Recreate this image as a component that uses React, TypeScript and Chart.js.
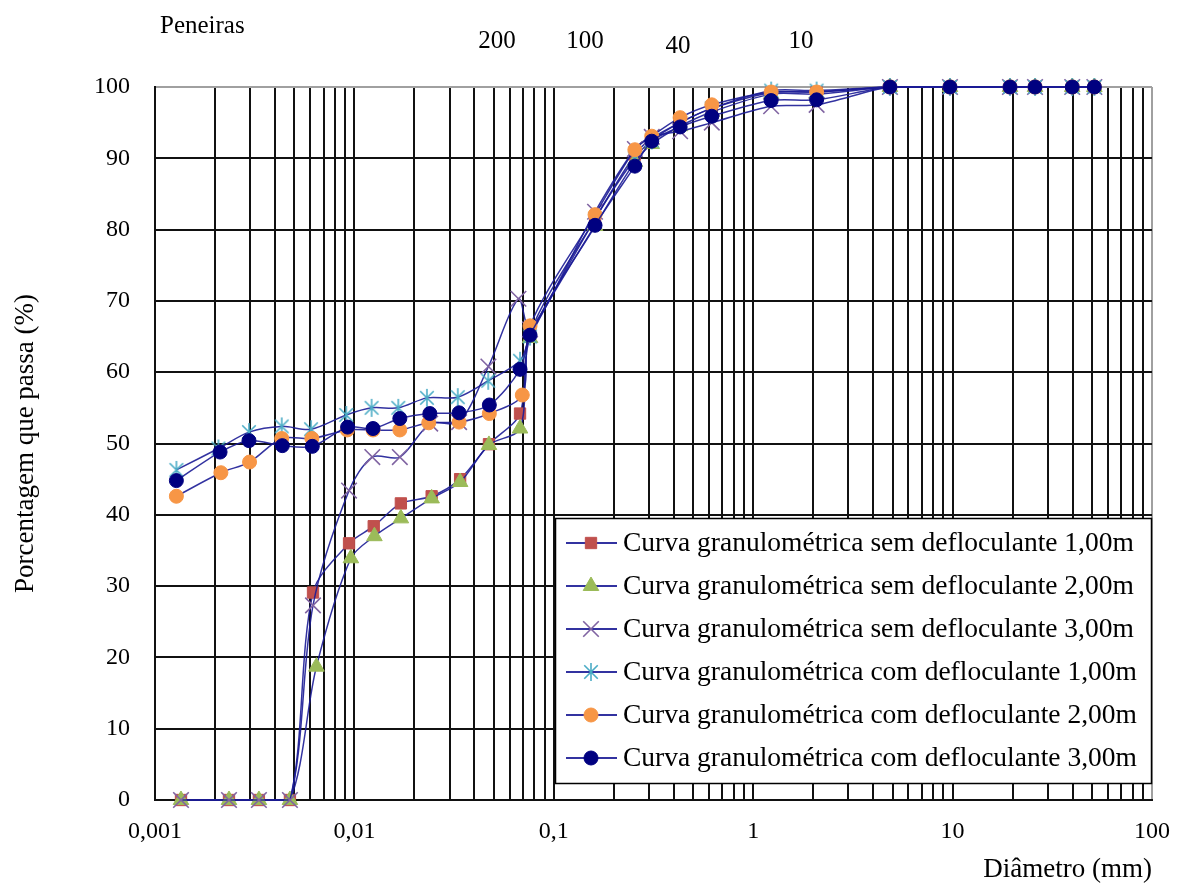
import React, { useEffect, useRef } from 'react';
import { Chart, registerables } from 'chart.js';
import { drawPoint } from 'chart.js/helpers';

Chart.register(...registerables);

const seriesNames = [
  'Curva granulométrica sem defloculante 1,00m',
  'Curva granulométrica sem defloculante 2,00m',
  'Curva granulométrica sem defloculante 3,00m',
  'Curva granulométrica com defloculante 1,00m',
  'Curva granulométrica com defloculante 2,00m',
  'Curva granulométrica com defloculante 3,00m',
];

const xTickLabels = ['0,001', '0,01', '0,1', '1', '10', '100'];
const yTicks = [0, 10, 20, 30, 40, 50, 60, 70, 80, 90, 100];
const sieveTitle = 'Peneiras';
const sieveNumbers = ['200', '100', '40', '10'];

// Sieve diameters (mm)
const sieveX = [0.076, 0.161, 0.255, 0.31, 0.43, 0.62, 1.23, 2.08, 4.85, 9.7, 19.4, 25.9, 39.8, 51.4];

// Sedimentation diameters (mm)
const hydroXSem1 = [0.00135, 0.00235, 0.00332, 0.00475, 0.0062, 0.0094, 0.0125, 0.0171, 0.0244, 0.0339, 0.0473, 0.0677];
const hydroXSem2 = [0.00135, 0.00235, 0.00332, 0.00475, 0.00645, 0.0096, 0.0126, 0.0171, 0.0244, 0.0339, 0.0473, 0.0677];
const hydroXSem3 = [0.00135, 0.00235, 0.00332, 0.00475, 0.0062, 0.0094, 0.0123, 0.0169, 0.024, 0.0335, 0.047, 0.0665];
const hydroXCom1 = [0.00128, 0.00208, 0.00296, 0.00432, 0.00606, 0.0091, 0.0122, 0.0166, 0.0231, 0.033, 0.0469, 0.0677];
const hydroXCom2 = [0.00128, 0.00214, 0.00298, 0.00432, 0.00612, 0.0092, 0.0124, 0.0169, 0.0236, 0.0335, 0.0475, 0.0695];
const hydroXCom3 = [0.00128, 0.00212, 0.00296, 0.00435, 0.00615, 0.00925, 0.0124, 0.0169, 0.0239, 0.0335, 0.0475, 0.0677];

// Percent passing – sedimentation
const hydroYSem1 = [0, 0, 0, 0, 29.1, 36.0, 38.4, 41.6, 42.6, 45.0, 49.9, 54.2];
const hydroYSem2 = [0, 0, 0, 0, 18.7, 33.9, 37.0, 39.5, 42.3, 44.6, 49.8, 52.1];
const hydroYSem3 = [0, 0, 0, 0, 27.3, 43.4, 48.1, 48.1, 52.8, 53.0, 60.8, 70.3];
const hydroYCom1 = [46.3, 49.3, 51.6, 52.4, 52.0, 54.0, 55.0, 55.0, 56.4, 56.5, 58.8, 61.6];
const hydroYCom2 = [42.6, 45.9, 47.4, 50.7, 50.7, 51.9, 51.9, 51.9, 52.9, 53.0, 54.2, 56.8];
const hydroYCom3 = [44.8, 48.8, 50.4, 49.7, 49.6, 52.3, 52.1, 53.5, 54.2, 54.3, 55.4, 60.4];

// Percent passing – sieves
const sieveYSem1 = [65.5, 81.5, 90.5, 92.8, 95.0, 97.0, 99.2, 99.3, 100, 100, 100, 100, 100, 100];
const sieveYSem2 = [64.8, 80.5, 89.5, 92.0, 94.5, 96.5, 99.0, 99.0, 100, 100, 100, 100, 100, 100];
const sieveYSem3 = [66.0, 82.5, 91.3, 93.0, 93.8, 95.0, 97.3, 97.5, 100, 100, 100, 100, 100, 100];
const sieveYCom1 = [65.0, 81.5, 90.0, 92.5, 95.0, 97.0, 99.5, 99.5, 100, 100, 100, 100, 100, 100];
const sieveYCom2 = [66.5, 82.1, 91.2, 93.1, 95.7, 97.5, 99.3, 99.3, 100, 100, 100, 100, 100, 100];
const sieveYCom3 = [65.2, 80.6, 88.9, 92.4, 94.4, 95.9, 98.1, 98.2, 100, 100, 100, 100, 100, 100];

const markerColors = ['#c0504d', '#9bbb59', '#8064a2', '#4bacc6', '#f79646', '#000080'];
const lineColor = 'rgba(28,28,150,0.9)';
const FONT = "'Liberation Serif', 'Times New Roman', serif";

function makeAsterisk(color: string, size: number) {
  const c = document.createElement('canvas');
  c.width = size;
  c.height = size;
  const ctx = c.getContext('2d')!;
  ctx.strokeStyle = color;
  ctx.lineWidth = 1.6;
  const m = size / 2;
  const r = size / 2 - 1;
  ctx.beginPath();
  ctx.moveTo(m, m - r);
  ctx.lineTo(m, m + r);
  const d = r * 0.75;
  ctx.moveTo(m - d, m - d);
  ctx.lineTo(m + d, m + d);
  ctx.moveTo(m + d, m - d);
  ctx.lineTo(m - d, m + d);
  ctx.stroke();
  return c;
}

function combine(hx: number[], hy: number[], sy: number[]) {
  return hx.map((x, i) => ({ x, y: hy[i] })).concat(sieveX.map((x, i) => ({ x, y: sy[i] })));
}

const legendPlugin = {
  id: 'customLegend',
  afterDraw(chart: any) {
    const ctx = chart.ctx;
    const left = 555, top = 518, right = chart.chartArea.right, bottom = 783;
    ctx.save();
    ctx.fillStyle = '#ffffff';
    ctx.fillRect(left, top, right - left, bottom - top);
    ctx.strokeStyle = '#000000';
    ctx.lineWidth = 1.5;
    ctx.strokeRect(left + 0.5, top + 0.5, right - left - 1, bottom - top);
    chart.data.datasets.forEach((ds: any, i: number) => {
      const y = 543 + i * 43;
      ctx.strokeStyle = lineColor;
      ctx.lineWidth = 2;
      ctx.beginPath();
      ctx.moveTo(566, y);
      ctx.lineTo(617, y);
      ctx.stroke();
      ctx.fillStyle = ds.pointBackgroundColor;
      ctx.strokeStyle = ds.pointBorderColor;
      ctx.lineWidth = ds.pointBorderWidth;
      drawPoint(ctx, { pointStyle: ds.pointStyle, radius: ds.pointRadius, rotation: 0, borderWidth: ds.pointBorderWidth }, 591, y);
      ctx.fillStyle = '#000000';
      ctx.font = `27.5px ${FONT}`;
      ctx.textBaseline = 'middle';
      ctx.textAlign = 'left';
      ctx.fillText(ds.label, 623, y + 1);
    });
    ctx.restore();
  },
};

const topLabelsPlugin = {
  id: 'topLabels',
  afterDraw(chart: any) {
    const ctx = chart.ctx;
    ctx.save();
    ctx.fillStyle = '#000000';
    ctx.font = `25px ${FONT}`;
    ctx.textBaseline = 'middle';
    ctx.textAlign = 'left';
    ctx.fillText(sieveTitle, 160, 26);
    const pos = [
      [497, 41],
      [585, 41],
      [678, 46],
      [801, 41],
    ];
    ctx.textAlign = 'center';
    sieveNumbers.forEach((t, i) => ctx.fillText(t, pos[i][0], pos[i][1]));
    ctx.restore();
  },
};

export default function App() {
  const ref = useRef<HTMLCanvasElement | null>(null);
  useEffect(() => {
    if (!ref.current) return;
    const styles = ['rect', 'triangle', 'crossRot', makeAsterisk(markerColors[3], 20), 'circle', 'circle'];
    const radii = [8, 9, 11, 10, 7, 7];
    const borderW = [1, 1, 1.6, 1, 1, 1];
    const xs = [hydroXSem1, hydroXSem2, hydroXSem3, hydroXCom1, hydroXCom2, hydroXCom3];
    const hys = [hydroYSem1, hydroYSem2, hydroYSem3, hydroYCom1, hydroYCom2, hydroYCom3];
    const sys = [sieveYSem1, sieveYSem2, sieveYSem3, sieveYCom1, sieveYCom2, sieveYCom3];
    const datasets = seriesNames.map((name, i) => ({
      label: name,
      data: combine(xs[i], hys[i], sys[i]),
      showLine: true,
      borderColor: lineColor,
      borderWidth: 1.5,
      pointStyle: styles[i],
      pointRadius: radii[i],
      pointHoverRadius: radii[i],
      pointBackgroundColor: markerColors[i],
      pointBorderColor: markerColors[i],
      pointBorderWidth: borderW[i],
      tension: 0.3,
      clip: false,
      order: 5 - i,
    }));

    const isMajor = (v: number) => Math.abs(Math.log10(v) - Math.round(Math.log10(v))) < 1e-9;

    const chart = new Chart(ref.current, {
      type: 'scatter',
      data: { datasets },
      plugins: [legendPlugin, topLabelsPlugin],
      options: {
        animation: false,
        responsive: true,
        maintainAspectRatio: false,
        layout: { padding: { top: 87, right: 25, left: 0, bottom: 0 } },
        plugins: { legend: { display: false }, tooltip: { enabled: false } },
        scales: {
          x: {
            type: 'logarithmic',
            min: 0.001,
            max: 100,
            afterBuildTicks: (scale: any) => {
              const t: any[] = [];
              for (let e = -3; e < 2; e++) {
                for (let k = 1; k < 10; k++) t.push({ value: k * Math.pow(10, e) });
              }
              t.push({ value: 100 });
              scale.ticks = t;
            },
            afterFit: (scale: any) => {
              scale.height = 86;
              scale.paddingLeft = 0;
              scale.paddingRight = 0;
            },
            grid: {
              color: (c: any) => (c.tick && c.tick.value >= 99.9 ? '#a0a0a0' : '#111111'),
              lineWidth: 2,
              drawTicks: false,
            },
            border: { color: '#111111', width: 2 },
            ticks: {
              autoSkip: false,
              maxRotation: 0,
              padding: 17,
              color: '#000000',
              font: { family: FONT, size: 24 },
              callback: (v: any) => {
                const n = Number(v);
                if (!isMajor(n)) return '';
                return xTickLabels[Math.round(Math.log10(n)) + 3];
              },
            },
            title: {
              display: true,
              text: 'Diâmetro (mm)',
              align: 'end',
              color: '#000000',
              font: { family: FONT, size: 27 },
              padding: { top: 0, bottom: 0 },
            },
          },
          y: {
            min: 0,
            max: 100,
            afterBuildTicks: (scale: any) => {
              scale.ticks = yTicks.map((v) => ({ value: v }));
            },
            afterFit: (scale: any) => {
              scale.width = 155;
              scale.paddingTop = 0;
              scale.paddingBottom = 0;
            },
            grid: {
              color: (c: any) => (c.tick && c.tick.value === 100 ? '#a0a0a0' : '#111111'),
              lineWidth: 2,
              drawTicks: false,
            },
            border: { color: '#111111', width: 2 },
            ticks: {
              padding: 25,
              color: '#000000',
              font: { family: FONT, size: 24 },
            },
            title: {
              display: true,
              text: 'Porcentagem que passa (%)',
              color: '#000000',
              font: { family: FONT, size: 27 },
              padding: { top: 10, bottom: 0 },
            },
          },
        },
      } as any,
    });
    return () => chart.destroy();
  }, []);

  return (
    <div style={{ position: 'fixed', left: 0, top: 0, width: 1177, height: 886, background: '#ffffff' }}>
      <canvas ref={ref} />
    </div>
  );
}
